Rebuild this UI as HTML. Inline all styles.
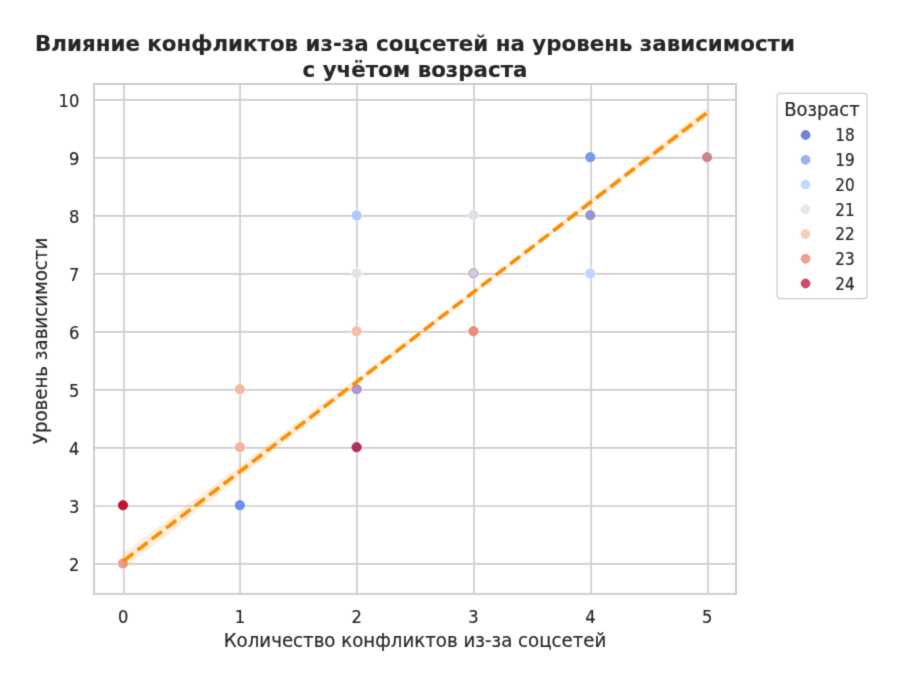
<!DOCTYPE html>
<html lang="ru"><head><meta charset="utf-8"><title>Влияние конфликтов из-за соцсетей на уровень зависимости</title>
<style>html,body{margin:0;padding:0;background:#fff}svg{display:block}text{font-family:"DejaVu Sans","Liberation Sans",sans-serif;fill:#262626;stroke:#262626;stroke-width:0.16px}</style>
</head><body>
<svg width="900" height="686" viewBox="0 0 900 686">
<defs><filter id="soft" x="0" y="0" width="900" height="686" filterUnits="userSpaceOnUse" color-interpolation-filters="sRGB"><feConvolveMatrix order="3" kernelMatrix="0.0169 0.0962 0.0169 0.0962 0.5476 0.0962 0.0169 0.0962 0.0169" edgeMode="duplicate" preserveAlpha="true"/></filter></defs>
<rect width="900" height="686" fill="#ffffff"/>
<g filter="url(#soft)">
<rect width="900" height="686" fill="#ffffff"/>
<g stroke="#cccccc" stroke-width="1.6" fill="none">
<line x1="123.90" y1="84.00" x2="123.90" y2="593.90"/>
<line x1="240.10" y1="84.00" x2="240.10" y2="593.90"/>
<line x1="357.00" y1="84.00" x2="357.00" y2="593.90"/>
<line x1="474.10" y1="84.00" x2="474.10" y2="593.90"/>
<line x1="591.10" y1="84.00" x2="591.10" y2="593.90"/>
<line x1="708.10" y1="84.00" x2="708.10" y2="593.90"/>
<line x1="94.00" y1="563.90" x2="736.00" y2="563.90"/>
<line x1="94.00" y1="506.05" x2="736.00" y2="506.05"/>
<line x1="94.00" y1="447.90" x2="736.00" y2="447.90"/>
<line x1="94.00" y1="389.90" x2="736.00" y2="389.90"/>
<line x1="94.00" y1="331.90" x2="736.00" y2="331.90"/>
<line x1="94.00" y1="273.90" x2="736.00" y2="273.90"/>
<line x1="94.00" y1="215.90" x2="736.00" y2="215.90"/>
<line x1="94.00" y1="157.90" x2="736.00" y2="157.90"/>
<line x1="94.00" y1="99.90" x2="736.00" y2="99.90"/>
</g>
<g>
<circle cx="123.00" cy="505.30" r="5.90" fill="#ffffff" fill-opacity="0.75"/>
<circle cx="123.00" cy="505.30" r="4.70" fill="#b91535" stroke="#c8143a" stroke-width="0.9" opacity="1.00"/>
<circle cx="123.00" cy="563.30" r="5.90" fill="#ffffff" fill-opacity="0.75"/>
<circle cx="123.00" cy="563.30" r="5.15" fill="#e7745b" opacity="0.70"/>
<circle cx="239.82" cy="389.30" r="5.90" fill="#ffffff" fill-opacity="0.75"/>
<circle cx="239.82" cy="389.30" r="4.70" fill="#f5b8a0" stroke="#f4b096" stroke-width="0.9" opacity="0.97"/>
<circle cx="239.82" cy="447.30" r="5.90" fill="#ffffff" fill-opacity="0.75"/>
<circle cx="239.82" cy="447.30" r="4.70" fill="#f5b49c" stroke="#f2a68d" stroke-width="0.9" opacity="0.97"/>
<circle cx="239.82" cy="505.30" r="5.90" fill="#ffffff" fill-opacity="0.75"/>
<circle cx="239.82" cy="505.30" r="4.70" fill="#6b90ee" stroke="#6186f0" stroke-width="0.9" opacity="1.00"/>
<circle cx="356.64" cy="215.30" r="5.90" fill="#ffffff" fill-opacity="0.75"/>
<circle cx="356.64" cy="215.30" r="5.15" fill="#a7c4fa" opacity="0.93"/>
<circle cx="356.64" cy="273.30" r="5.90" fill="#ffffff" fill-opacity="0.75"/>
<circle cx="356.64" cy="273.30" r="5.15" fill="#dddcdc" opacity="0.70"/>
<circle cx="356.64" cy="331.30" r="5.90" fill="#ffffff" fill-opacity="0.75"/>
<circle cx="356.64" cy="331.30" r="4.70" fill="#f0bda9" stroke="#f3b49c" stroke-width="0.9" opacity="0.97"/>
<circle cx="356.64" cy="389.30" r="5.90" fill="#ffffff" fill-opacity="0.75"/>
<circle cx="356.64" cy="389.30" r="4.70" fill="#aa9ad0" stroke="#b87cab" stroke-width="0.9" opacity="1.00"/>
<circle cx="356.64" cy="447.30" r="5.90" fill="#ffffff" fill-opacity="0.75"/>
<circle cx="356.64" cy="447.30" r="4.70" fill="#aa3360" stroke="#c02257" stroke-width="0.9" opacity="1.00"/>
<circle cx="473.46" cy="215.30" r="5.90" fill="#ffffff" fill-opacity="0.75"/>
<circle cx="473.46" cy="215.30" r="4.70" fill="#e0e0e2" stroke="#d2d7ec" stroke-width="0.9" opacity="0.95"/>
<circle cx="473.46" cy="273.30" r="5.90" fill="#ffffff" fill-opacity="0.75"/>
<circle cx="473.46" cy="273.30" r="4.70" fill="#cdcbe1" stroke="#c58ba2" stroke-width="0.9" opacity="1.00"/>
<circle cx="473.46" cy="331.30" r="5.90" fill="#ffffff" fill-opacity="0.75"/>
<circle cx="473.46" cy="331.30" r="4.70" fill="#e58c78" stroke="#e8806a" stroke-width="0.9" opacity="0.97"/>
<circle cx="590.28" cy="157.30" r="5.90" fill="#ffffff" fill-opacity="0.75"/>
<circle cx="590.28" cy="157.30" r="4.70" fill="#7799f0" stroke="#6f92f3" stroke-width="0.9" opacity="1.00"/>
<circle cx="590.28" cy="215.30" r="5.90" fill="#ffffff" fill-opacity="0.75"/>
<circle cx="590.28" cy="215.30" r="4.70" fill="#8d97dd" stroke="#b882a8" stroke-width="0.9" opacity="1.00"/>
<circle cx="590.28" cy="273.30" r="5.90" fill="#ffffff" fill-opacity="0.75"/>
<circle cx="590.28" cy="273.30" r="5.15" fill="#aac7fd" opacity="0.70"/>
<circle cx="707.10" cy="157.30" r="5.90" fill="#ffffff" fill-opacity="0.75"/>
<circle cx="707.10" cy="157.30" r="4.70" fill="#cd8088" stroke="#c084a2" stroke-width="0.9" opacity="1.00"/>
</g>
<polygon points="123.20,553.03 134.89,544.29 146.57,535.55 158.26,526.81 169.94,518.08 181.63,509.34 193.32,500.59 205.00,491.85 216.69,483.11 228.37,474.37 240.06,465.62 251.75,456.87 263.43,448.12 275.12,439.37 286.80,430.62 298.49,421.86 310.18,413.11 321.86,404.34 333.55,395.58 345.23,386.81 356.92,378.03 368.61,369.25 380.29,360.46 391.98,351.67 403.66,342.86 415.35,334.04 427.04,325.20 438.72,316.35 450.41,307.48 462.09,298.59 473.78,289.68 485.47,280.73 497.15,271.76 508.84,262.76 520.52,253.74 532.21,244.69 543.90,235.62 555.58,226.52 567.27,217.41 578.95,208.28 590.64,199.14 602.33,189.99 614.01,180.83 625.70,171.66 637.38,162.49 649.07,153.31 660.76,144.13 672.44,134.94 684.13,125.74 695.81,116.55 707.50,107.35 707.50,117.45 695.81,126.20 684.13,134.96 672.44,143.72 660.76,152.48 649.07,161.25 637.38,170.02 625.70,178.80 614.01,187.58 602.33,196.38 590.64,205.18 578.95,213.99 567.27,222.81 555.58,231.65 543.90,240.51 532.21,249.39 520.52,258.29 508.84,267.22 497.15,276.17 485.47,285.15 473.78,294.16 462.09,303.20 450.41,312.26 438.72,321.34 427.04,330.44 415.35,339.56 403.66,348.69 391.98,357.84 380.29,366.99 368.61,376.16 356.92,385.33 345.23,394.50 333.55,403.68 321.86,412.87 310.18,422.06 298.49,431.26 286.80,440.45 275.12,449.65 263.43,458.85 251.75,468.06 240.06,477.26 228.37,486.47 216.69,495.67 205.00,504.88 193.32,514.09 181.63,523.30 169.94,532.52 158.26,541.73 146.57,550.94 134.89,560.16 123.20,569.37" fill="#ff8c00" fill-opacity="0.15"/>
<line x1="123.20" y1="561.20" x2="707.50" y2="112.40" stroke="#ff8c00" stroke-width="3.6" stroke-dasharray="12.61 5.46"/>
<rect x="94.00" y="84.00" width="642.00" height="509.90" fill="none" stroke="#cccccc" stroke-width="1.9"/>
<text transform="translate(123.10,622.70) scale(0.980,1.100)" font-size="16.70" text-anchor="middle">0</text>
<text transform="translate(239.92,622.70) scale(0.980,1.100)" font-size="16.70" text-anchor="middle">1</text>
<text transform="translate(356.74,622.70) scale(0.980,1.100)" font-size="16.70" text-anchor="middle">2</text>
<text transform="translate(473.56,622.70) scale(0.980,1.100)" font-size="16.70" text-anchor="middle">3</text>
<text transform="translate(590.38,622.70) scale(0.980,1.100)" font-size="16.70" text-anchor="middle">4</text>
<text transform="translate(707.20,622.70) scale(0.980,1.100)" font-size="16.70" text-anchor="middle">5</text>
<text transform="translate(79.30,570.60) scale(0.980,1.100)" font-size="16.70" text-anchor="end">2</text>
<text transform="translate(79.30,512.75) scale(0.980,1.100)" font-size="16.70" text-anchor="end">3</text>
<text transform="translate(79.30,454.60) scale(0.980,1.100)" font-size="16.70" text-anchor="end">4</text>
<text transform="translate(79.30,396.60) scale(0.980,1.100)" font-size="16.70" text-anchor="end">5</text>
<text transform="translate(79.30,338.60) scale(0.980,1.100)" font-size="16.70" text-anchor="end">6</text>
<text transform="translate(79.30,280.60) scale(0.980,1.100)" font-size="16.70" text-anchor="end">7</text>
<text transform="translate(79.30,222.60) scale(0.980,1.100)" font-size="16.70" text-anchor="end">8</text>
<text transform="translate(79.30,164.60) scale(0.980,1.100)" font-size="16.70" text-anchor="end">9</text>
<text transform="translate(79.30,106.60) scale(0.980,1.100)" font-size="16.70" text-anchor="end">10</text>
<text transform="translate(415.00,647.20) scale(1.000,1.070)" font-size="18.20" text-anchor="middle">Количество конфликтов из-за соцсетей</text>
<text transform="translate(47.20,341.00) rotate(-90) scale(1.000,1.070)" font-size="18.20" text-anchor="middle">Уровень зависимости</text>
<text transform="translate(415.00,51.30)" font-size="21.36" text-anchor="middle" font-weight="bold">Влияние конфликтов из-за соцсетей на уровень зависимости</text>
<text transform="translate(415.00,76.80)" font-size="21.36" text-anchor="middle" font-weight="bold">с учётом возраста</text>
<rect x="777.1" y="93.3" width="89.9" height="205.3" rx="3" ry="3" fill="#ffffff" fill-opacity="0.8" stroke="#cccccc" stroke-width="1.2"/>
<text transform="translate(821.90,116.30) scale(0.985,1.070)" font-size="18.20" text-anchor="middle">Возраст</text>
<circle cx="805.6" cy="135.00" r="4.4" fill="#7682d3" stroke="#6673d0" stroke-width="0.9"/>
<text transform="translate(835.20,140.60) scale(0.915,1.100)" font-size="16.70" text-anchor="start">18</text>
<circle cx="805.6" cy="159.85" r="4.4" fill="#9ab2f6" stroke="#8fa9f5" stroke-width="0.9"/>
<text transform="translate(835.20,166.25) scale(0.915,1.100)" font-size="16.70" text-anchor="start">19</text>
<circle cx="805.6" cy="184.60" r="4.4" fill="#c4d8fe" stroke="#bcd3fe" stroke-width="0.9"/>
<text transform="translate(835.20,191.00) scale(0.915,1.100)" font-size="16.70" text-anchor="start">20</text>
<circle cx="805.6" cy="209.30" r="4.4" fill="#e7e7e6" stroke="#e2e2e1" stroke-width="0.9"/>
<text transform="translate(835.20,215.70) scale(0.915,1.100)" font-size="16.70" text-anchor="start">21</text>
<circle cx="805.6" cy="234.00" r="4.4" fill="#f9cdba" stroke="#f8c6b0" stroke-width="0.9"/>
<text transform="translate(835.20,240.40) scale(0.915,1.100)" font-size="16.70" text-anchor="start">22</text>
<circle cx="805.6" cy="258.70" r="4.4" fill="#ee9e8c" stroke="#ec917d" stroke-width="0.9"/>
<text transform="translate(835.20,265.10) scale(0.915,1.100)" font-size="16.70" text-anchor="start">23</text>
<circle cx="805.6" cy="283.50" r="4.4" fill="#ca4f67" stroke="#c43f59" stroke-width="0.9"/>
<text transform="translate(835.20,289.90) scale(0.915,1.100)" font-size="16.70" text-anchor="start">24</text>
</g>
</svg>
</body></html>
